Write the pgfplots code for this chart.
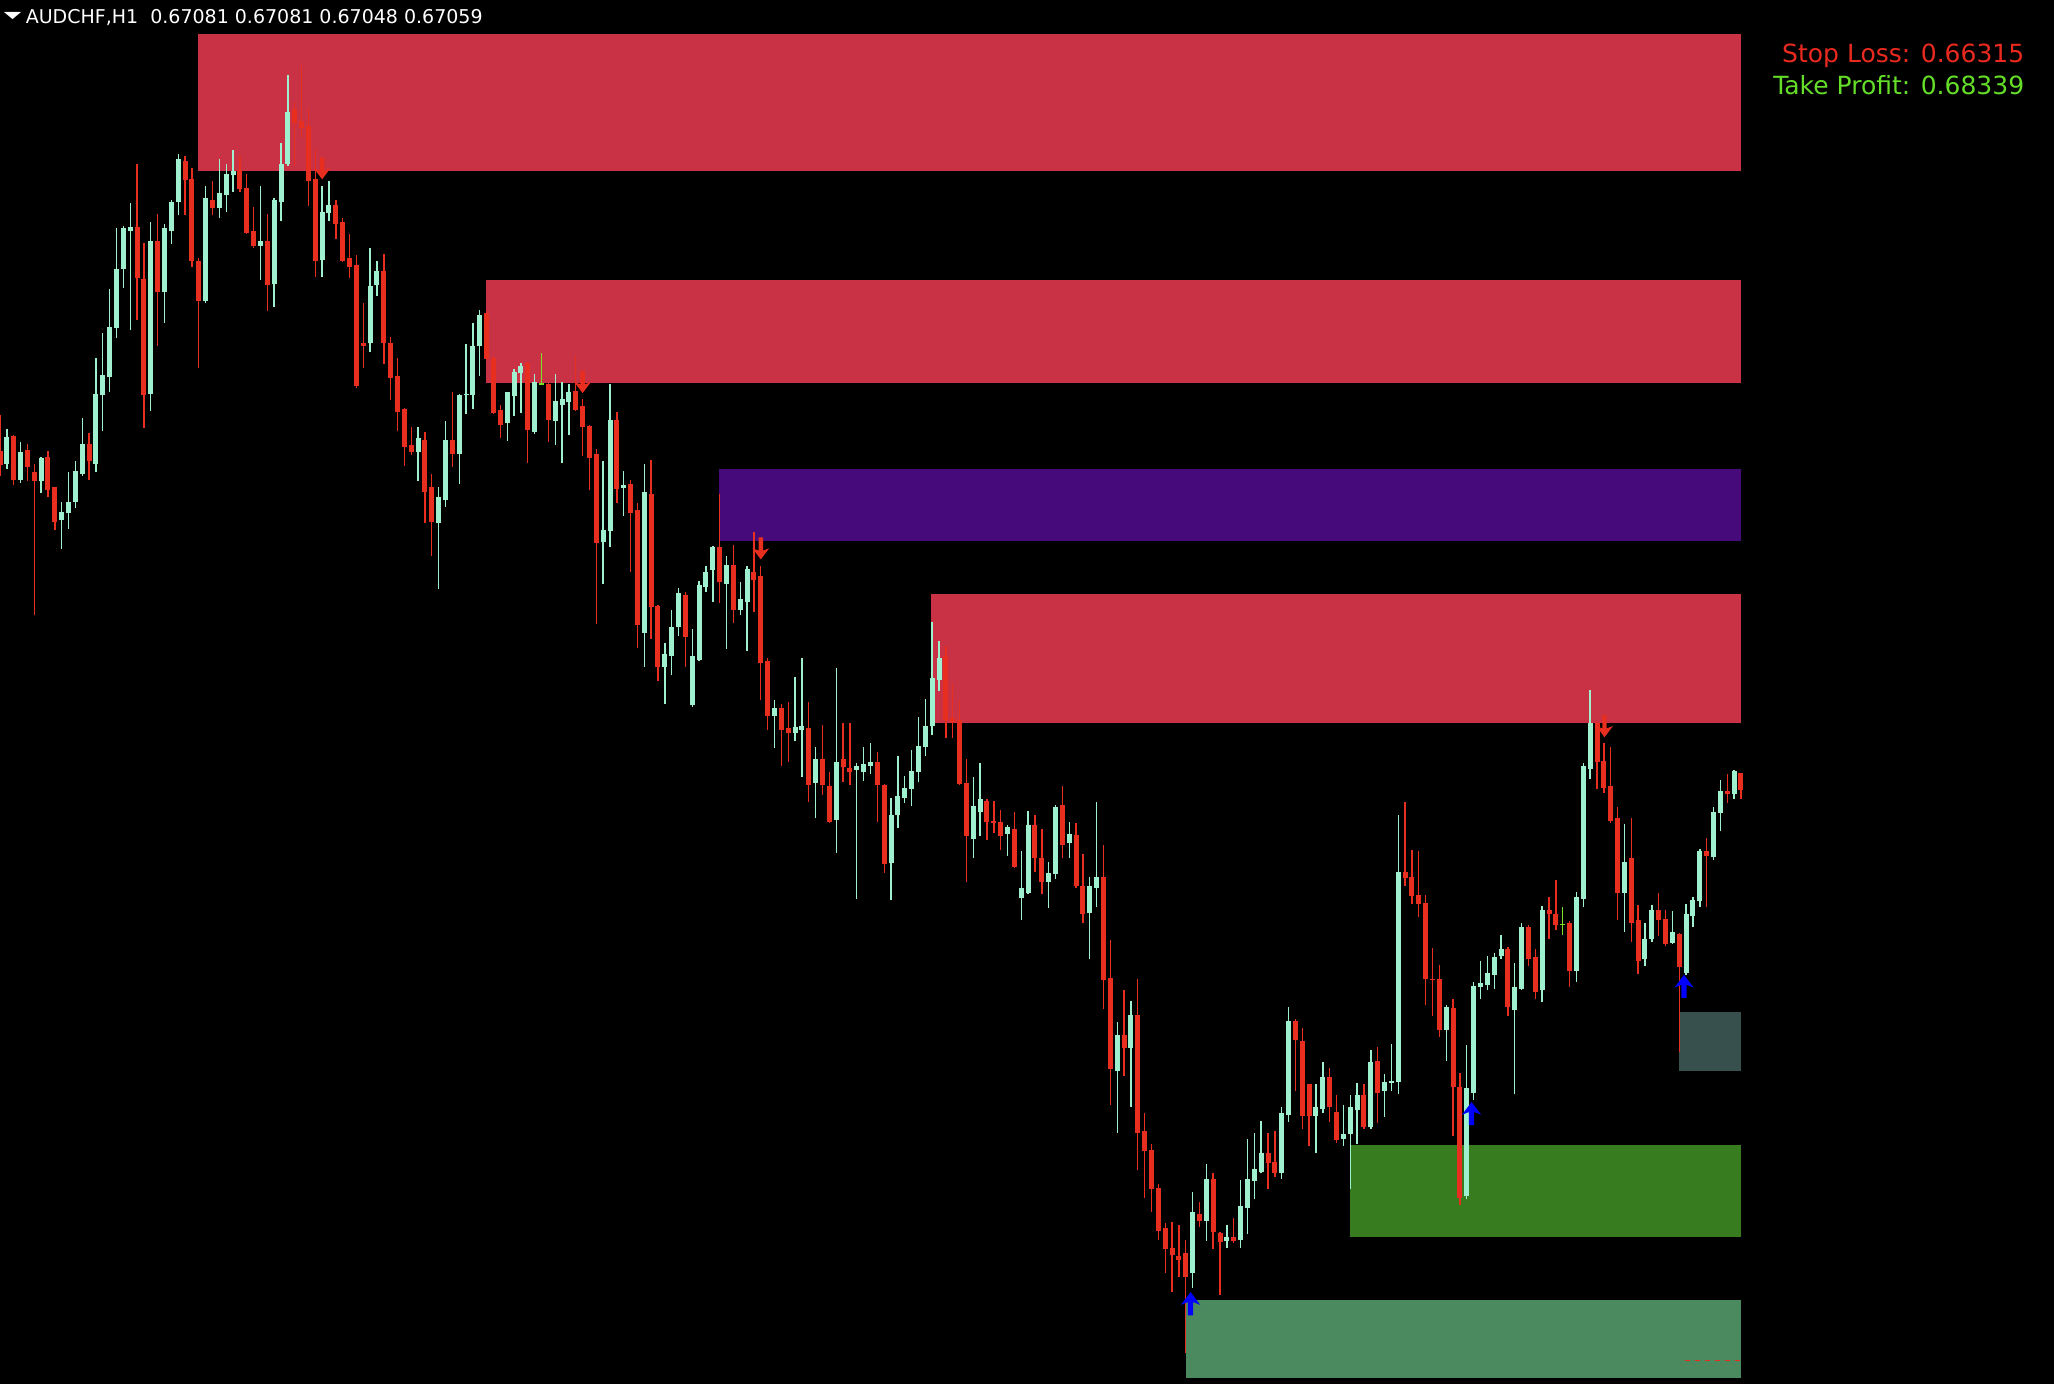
\documentclass[border=0pt]{standalone}
\usepackage{fontspec}
\setmainfont{DejaVu Sans}
\usepackage{graphicx}
\usepackage{pgfplots}
\usepackage{pgfplotstable}
\pgfplotsset{compat=1.18}

% palette
\definecolor{cup}{RGB}{158,240,206}
\definecolor{cdn}{RGB}{232,46,30}
\definecolor{cdoji}{RGB}{124,224,40}
\definecolor{zsup}{RGB}{201,50,68}
\definecolor{zmid}{RGB}{70,10,122}
\definecolor{zdem}{RGB}{56,124,32}
\definecolor{zdemb}{RGB}{74,138,94}
\definecolor{zslate}{RGB}{55,80,78}
\definecolor{sltext}{RGB}{234,42,30}
\definecolor{tptext}{RGB}{100,222,40}
\definecolor{sigblue}{RGB}{0,0,255}

% signal arrows, tip at the plotted point
\pgfdeclareplotmark{sigup}{%
  \pgfpathmoveto{\pgfqpoint{0pt}{0pt}}%
  \pgfpathlineto{\pgfqpoint{2.4pt}{-3.2pt}}%
  \pgfpathlineto{\pgfqpoint{0.65pt}{-2.5pt}}%
  \pgfpathlineto{\pgfqpoint{0.65pt}{-5.8pt}}%
  \pgfpathlineto{\pgfqpoint{-0.65pt}{-5.8pt}}%
  \pgfpathlineto{\pgfqpoint{-0.65pt}{-2.5pt}}%
  \pgfpathlineto{\pgfqpoint{-2.4pt}{-3.2pt}}%
  \pgfpathclose
  \pgfusepathqfill}
\pgfdeclareplotmark{sigdown}{%
  \pgfpathmoveto{\pgfqpoint{0pt}{0pt}}%
  \pgfpathlineto{\pgfqpoint{2.1pt}{2.8pt}}%
  \pgfpathlineto{\pgfqpoint{0.55pt}{2.2pt}}%
  \pgfpathlineto{\pgfqpoint{0.55pt}{5.5pt}}%
  \pgfpathlineto{\pgfqpoint{-0.55pt}{5.5pt}}%
  \pgfpathlineto{\pgfqpoint{-0.55pt}{2.2pt}}%
  \pgfpathlineto{\pgfqpoint{-2.1pt}{2.8pt}}%
  \pgfpathclose
  \pgfusepathqfill}

% candle pieces drawn as error bars (wick: low->high, body: open<->close)
\pgfplotsset{
  candlepart/.style n args={2}{draw=none, no markers,
    error bars/.cd, y dir=plus, y explicit, error mark=none,
    error bar style={line width=#1, draw=#2, line cap=butt}},
}

% AUDCHF H1 bars: index, open, high, low, close
\pgfplotstableread{
i O H L C
0 0.67502 0.67549 0.67469 0.67483
1 0.67485 0.67530 0.67478 0.67520
2 0.67521 0.67523 0.67457 0.67464
3 0.67464 0.67513 0.67460 0.67500
4 0.67503 0.67511 0.67462 0.67481
5 0.67474 0.67484 0.67287 0.67462
6 0.67462 0.67494 0.67447 0.67492
7 0.67494 0.67502 0.67441 0.67451
8 0.67454 0.67455 0.67398 0.67409
9 0.67411 0.67435 0.67374 0.67422
10 0.67420 0.67474 0.67400 0.67435
11 0.67435 0.67489 0.67427 0.67476
12 0.67472 0.67544 0.67469 0.67510
13 0.67511 0.67525 0.67464 0.67488
14 0.67485 0.67623 0.67474 0.67576
15 0.67574 0.67656 0.67527 0.67601
16 0.67598 0.67713 0.67579 0.67663
17 0.67662 0.67793 0.67649 0.67739
18 0.67739 0.67795 0.67714 0.67792
19 0.67789 0.67825 0.67659 0.67794
20 0.67794 0.67876 0.67673 0.67727
21 0.67726 0.67773 0.67532 0.67574
22 0.67576 0.67800 0.67554 0.67775
23 0.67775 0.67811 0.67639 0.67709
24 0.67709 0.67798 0.67669 0.67792
25 0.67789 0.67829 0.67771 0.67827
26 0.67826 0.67889 0.67809 0.67883
27 0.67880 0.67887 0.67809 0.67855
28 0.67856 0.67871 0.67742 0.67749
29 0.67750 0.67753 0.67610 0.67697
30 0.67697 0.67847 0.67695 0.67831
31 0.67829 0.67854 0.67809 0.67818
32 0.67819 0.67882 0.67805 0.67838
33 0.67836 0.67876 0.67814 0.67863
34 0.67861 0.67894 0.67839 0.67867
35 0.67868 0.67885 0.67839 0.67843
36 0.67845 0.67863 0.67784 0.67786
37 0.67788 0.67820 0.67767 0.67769
38 0.67769 0.67847 0.67724 0.67775
39 0.67775 0.67811 0.67684 0.67718
40 0.67719 0.67831 0.67689 0.67829
41 0.67826 0.67904 0.67802 0.67876
42 0.67876 0.67992 0.67874 0.67944
43 0.67948 0.67957 0.67873 0.67930
44 0.67932 0.68005 0.67910 0.67923
45 0.67925 0.67950 0.67821 0.67854
46 0.67856 0.67896 0.67729 0.67749
47 0.67751 0.67847 0.67729 0.67813
48 0.67812 0.67854 0.67802 0.67822
49 0.67822 0.67829 0.67778 0.67798
50 0.67800 0.67805 0.67748 0.67750
51 0.67753 0.67784 0.67727 0.67742
52 0.67744 0.67757 0.67584 0.67586
53 0.67643 0.67695 0.67610 0.67639
54 0.67642 0.67766 0.67631 0.67717
55 0.67718 0.67750 0.67704 0.67737
56 0.67737 0.67759 0.67615 0.67642
57 0.67643 0.67650 0.67568 0.67597
58 0.67599 0.67623 0.67527 0.67552
59 0.67556 0.67558 0.67482 0.67507
60 0.67509 0.67533 0.67496 0.67500
61 0.67500 0.67533 0.67462 0.67518
62 0.67516 0.67526 0.67407 0.67448
63 0.67454 0.67471 0.67364 0.67409
64 0.67407 0.67455 0.67322 0.67442
65 0.67438 0.67540 0.67429 0.67516
66 0.67516 0.67579 0.67481 0.67498
67 0.67498 0.67576 0.67458 0.67574
68 0.67574 0.67641 0.67550 0.67576
69 0.67574 0.67668 0.67556 0.67639
70 0.67638 0.67686 0.67599 0.67679
71 0.67682 0.67686 0.67620 0.67622
72 0.67623 0.67626 0.67550 0.67551
73 0.67555 0.67561 0.67518 0.67535
74 0.67538 0.67579 0.67515 0.67578
75 0.67573 0.67609 0.67547 0.67605
76 0.67603 0.67616 0.67551 0.67613
77 0.67616 0.67617 0.67486 0.67529
78 0.67526 0.67602 0.67524 0.67592
79 0.67589 0.67629 0.67587 0.67589
80 0.67589 0.67590 0.67513 0.67542
81 0.67540 0.67602 0.67509 0.67567
82 0.67562 0.67591 0.67486 0.67569
83 0.67565 0.67589 0.67522 0.67578
84 0.67580 0.67626 0.67554 0.67555
85 0.67560 0.67569 0.67495 0.67533
86 0.67534 0.67536 0.67450 0.67493
87 0.67497 0.67504 0.67276 0.67382
88 0.67383 0.67488 0.67328 0.67399
89 0.67397 0.67589 0.67376 0.67542
90 0.67542 0.67553 0.67433 0.67452
91 0.67453 0.67475 0.67417 0.67457
92 0.67458 0.67463 0.67343 0.67421
93 0.67425 0.67434 0.67244 0.67274
94 0.67264 0.67484 0.67220 0.67448
95 0.67446 0.67490 0.67256 0.67298
96 0.67299 0.67300 0.67202 0.67220
97 0.67220 0.67251 0.67171 0.67236
98 0.67234 0.67294 0.67209 0.67272
99 0.67272 0.67323 0.67260 0.67316
100 0.67313 0.67318 0.67220 0.67259
101 0.67170 0.67269 0.67168 0.67234
102 0.67229 0.67332 0.67227 0.67327
103 0.67324 0.67351 0.67318 0.67343
104 0.67346 0.67377 0.67304 0.67376
105 0.67376 0.67446 0.67303 0.67330
106 0.67328 0.67364 0.67243 0.67353
107 0.67353 0.67379 0.67277 0.67294
108 0.67294 0.67330 0.67288 0.67308
109 0.67305 0.67351 0.67241 0.67347
110 0.67343 0.67396 0.67292 0.67333
111 0.67339 0.67352 0.67176 0.67225
112 0.67227 0.67231 0.67138 0.67156
113 0.67156 0.67176 0.67114 0.67166
114 0.67166 0.67172 0.67091 0.67138
115 0.67140 0.67174 0.67096 0.67134
116 0.67134 0.67207 0.67123 0.67141
117 0.67138 0.67231 0.67076 0.67142
118 0.67140 0.67174 0.67044 0.67066
119 0.67068 0.67115 0.67022 0.67100
120 0.67100 0.67144 0.67053 0.67065
121 0.67065 0.67083 0.67016 0.67018
122 0.67020 0.67218 0.66977 0.67096
123 0.67100 0.67147 0.67069 0.67089
124 0.67088 0.67147 0.67065 0.67082
125 0.67085 0.67095 0.66917 0.67091
126 0.67083 0.67115 0.67071 0.67093
127 0.67091 0.67120 0.67080 0.67096
128 0.67096 0.67109 0.67017 0.67065
129 0.67065 0.67067 0.66951 0.66962
130 0.66964 0.67049 0.66915 0.67027
131 0.67027 0.67104 0.67009 0.67051
132 0.67049 0.67078 0.67042 0.67062
133 0.67060 0.67111 0.67038 0.67084
134 0.67082 0.67155 0.67069 0.67117
135 0.67115 0.67178 0.67104 0.67142
136 0.67142 0.67278 0.67131 0.67205
137 0.67203 0.67254 0.67188 0.67232
138 0.67234 0.67247 0.67127 0.67151
139 0.67153 0.67198 0.67127 0.67147
140 0.67150 0.67176 0.67065 0.67067
141 0.67068 0.67100 0.66939 0.66999
142 0.66995 0.67076 0.66970 0.67038
143 0.67030 0.67095 0.66999 0.67048
144 0.67045 0.67048 0.66994 0.67017
145 0.67019 0.67045 0.67003 0.67016
146 0.67018 0.67033 0.66981 0.66999
147 0.67002 0.67014 0.66973 0.67011
148 0.67008 0.67030 0.66957 0.66959
149 0.66918 0.66979 0.66890 0.66931
150 0.66925 0.67032 0.66923 0.67014
151 0.67013 0.67027 0.66952 0.66970
152 0.66971 0.67008 0.66923 0.66939
153 0.66939 0.66965 0.66905 0.66951
154 0.66950 0.67039 0.66943 0.67037
155 0.67039 0.67064 0.66970 0.66987
156 0.66990 0.67018 0.66970 0.67002
157 0.67000 0.67016 0.66931 0.66934
158 0.66934 0.66976 0.66885 0.66897
159 0.66899 0.66945 0.66838 0.66934
160 0.66931 0.67044 0.66907 0.66945
161 0.66945 0.66987 0.66774 0.66811
162 0.66814 0.66864 0.66648 0.66695
163 0.66692 0.66757 0.66612 0.66739
164 0.66739 0.66798 0.66686 0.66723
165 0.66723 0.66784 0.66646 0.66765
166 0.66765 0.66813 0.66563 0.66612
167 0.66614 0.66638 0.66527 0.66588
168 0.66589 0.66597 0.66508 0.66538
169 0.66540 0.66545 0.66472 0.66484
170 0.66488 0.66494 0.66429 0.66460
171 0.66461 0.66495 0.66404 0.66452
172 0.66451 0.66492 0.66423 0.66446
173 0.66455 0.66472 0.66324 0.66423
174 0.66429 0.66535 0.66409 0.66509
175 0.66506 0.66522 0.66489 0.66497
176 0.66497 0.66571 0.66471 0.66551
177 0.66551 0.66560 0.66460 0.66482
178 0.66481 0.66483 0.66400 0.66469
179 0.66470 0.66491 0.66462 0.66476
180 0.66476 0.66500 0.66468 0.66470
181 0.66472 0.66550 0.66461 0.66516
182 0.66514 0.66604 0.66480 0.66551
183 0.66549 0.66612 0.66525 0.66565
184 0.66561 0.66627 0.66559 0.66586
185 0.66586 0.66612 0.66539 0.66573
186 0.66574 0.66614 0.66554 0.66559
187 0.66559 0.66645 0.66552 0.66637
188 0.66635 0.66776 0.66626 0.66758
189 0.66758 0.66760 0.66666 0.66733
190 0.66731 0.66749 0.66617 0.66634
191 0.66675 0.66676 0.66595 0.66634
192 0.66634 0.66675 0.66586 0.66645
193 0.66643 0.66704 0.66637 0.66684
194 0.66684 0.66697 0.66626 0.66645
195 0.66639 0.66661 0.66599 0.66602
196 0.66604 0.66648 0.66595 0.66610
197 0.66610 0.66661 0.66539 0.66645
198 0.66642 0.66677 0.66597 0.66661
199 0.66661 0.66675 0.66617 0.66619
200 0.66619 0.66720 0.66617 0.66704
201 0.66706 0.66724 0.66624 0.66664
202 0.66666 0.66688 0.66633 0.66678
203 0.66677 0.66728 0.66666 0.66679
204 0.66678 0.67026 0.66663 0.66952
205 0.66952 0.67043 0.66934 0.66944
206 0.66945 0.66981 0.66910 0.66921
207 0.66922 0.66979 0.66894 0.66910
208 0.66912 0.66922 0.66778 0.66813
209 0.66813 0.66853 0.66764 0.66811
210 0.66812 0.66831 0.66737 0.66746
211 0.66746 0.66778 0.66706 0.66776
212 0.66775 0.66787 0.66608 0.66671
213 0.66672 0.66690 0.66517 0.66527
214 0.66529 0.66726 0.66525 0.66670
215 0.66664 0.66809 0.66655 0.66803
216 0.66802 0.66836 0.66787 0.66807
217 0.66805 0.66843 0.66798 0.66820
218 0.66818 0.66847 0.66800 0.66841
219 0.66843 0.66870 0.66838 0.66852
220 0.66852 0.66854 0.66764 0.66776
221 0.66772 0.66834 0.66662 0.66802
222 0.66800 0.66886 0.66798 0.66881
223 0.66881 0.66883 0.66829 0.66838
224 0.66841 0.66852 0.66787 0.66796
225 0.66798 0.66908 0.66782 0.66903
226 0.66903 0.66919 0.66865 0.66897
227 0.66897 0.66942 0.66876 0.66883
228 0.66884 0.66906 0.66870 0.66884
229 0.66886 0.66888 0.66802 0.66823
230 0.66823 0.66926 0.66809 0.66919
231 0.66917 0.67095 0.66906 0.67091
232 0.67086 0.67190 0.67073 0.67147
233 0.67147 0.67148 0.67060 0.67096
234 0.67097 0.67120 0.67055 0.67062
235 0.67064 0.67115 0.67016 0.67019
236 0.67022 0.67037 0.66890 0.66925
237 0.66925 0.67015 0.66874 0.66965
238 0.66970 0.67022 0.66861 0.66885
239 0.66889 0.66909 0.66819 0.66836
240 0.66838 0.66886 0.66829 0.66865
241 0.66865 0.66909 0.66861 0.66903
242 0.66903 0.66925 0.66868 0.66890
243 0.66891 0.66902 0.66856 0.66858
244 0.66860 0.66901 0.66858 0.66874
245 0.66871 0.66873 0.66717 0.66828
246 0.66820 0.66910 0.66818 0.66897
247 0.66895 0.66919 0.66881 0.66915
248 0.66914 0.66982 0.66906 0.66980
249 0.66979 0.66997 0.66906 0.66973
250 0.66972 0.67037 0.66968 0.67031
251 0.67029 0.67072 0.67006 0.67058
252 0.67058 0.67080 0.67042 0.67054
253 0.67054 0.67085 0.67048 0.67084
254 0.67081 0.67081 0.67048 0.67059
}\ohlc

\begin{document}
\begin{tikzpicture}
\begin{axis}[
  scale only axis, width=513.5pt, height=346pt,
  xmin=0, xmax=299.68, ymin=0.66284, ymax=0.68090,
  axis background/.style={fill=black},
  axis line style={draw=none}, ticks=none,
  clip=true, clip marker paths=true,
]
% supply and demand zones
\addplot[draw=none, fill=zsup] coordinates {(28.9,0.67867) (253.95,0.67867) (253.95,0.68046) (28.9,0.68046)};
\addplot[draw=none, fill=zsup] coordinates {(70.9,0.67590) (253.95,0.67590) (253.95,0.67724) (70.9,0.67724)};
\addplot[draw=none, fill=zmid] coordinates {(104.9,0.67384) (253.95,0.67384) (253.95,0.67478) (104.9,0.67478)};
\addplot[draw=none, fill=zsup] coordinates {(135.8,0.67147) (253.95,0.67147) (253.95,0.67315) (135.8,0.67315)};
\addplot[draw=none, fill=zslate] coordinates {(244.9,0.66693) (253.95,0.66693) (253.95,0.66770) (244.9,0.66770)};
\addplot[draw=none, fill=zdem] coordinates {(196.9,0.66476) (253.95,0.66476) (253.95,0.66596) (196.9,0.66596)};
\addplot[draw=none, fill=zdemb] coordinates {(173.0,0.66292) (253.95,0.66292) (253.95,0.66393) (173.0,0.66393)};

% bullish candles
\addplot[candlepart={0.34pt}{cup}]
  table[x=i, y expr={\thisrow{C}-\thisrow{O} > 0.000005 ? \thisrow{L} : nan},
        y error plus expr={\thisrow{H}-\thisrow{L}}] {\ohlc};
\addplot[candlepart={1.25pt}{cup}]
  table[x=i, y expr={\thisrow{C}-\thisrow{O} > 0.000005 ? \thisrow{O} : nan},
        y error plus expr={\thisrow{C}-\thisrow{O}}] {\ohlc};
% bearish candles
\addplot[candlepart={0.34pt}{cdn}]
  table[x=i, y expr={\thisrow{O}-\thisrow{C} > 0.000005 ? \thisrow{L} : nan},
        y error plus expr={\thisrow{H}-\thisrow{L}}] {\ohlc};
\addplot[candlepart={1.25pt}{cdn}]
  table[x=i, y expr={\thisrow{O}-\thisrow{C} > 0.000005 ? \thisrow{C} : nan},
        y error plus expr={\thisrow{O}-\thisrow{C}}] {\ohlc};
% doji bars: open equals close
\addplot[candlepart={0.34pt}{cdoji}]
  table[x=i, y expr={abs(\thisrow{C}-\thisrow{O}) < 0.000005 ? \thisrow{L} : nan},
        y error plus expr={\thisrow{H}-\thisrow{L}}] {\ohlc};
\addplot[only marks, mark=-, mark size=0.65pt, mark options={draw=cdoji, line width=0.34pt}]
  table[x=i, y expr={abs(\thisrow{C}-\thisrow{O}) < 0.000005 ? \thisrow{C} : nan}] {\ohlc};

% sell and buy signals
\addplot[only marks, mark=sigdown, mark options={fill=cdn, draw=none}]
  coordinates {(47,0.67856) (85,0.67577) (111,0.67360) (234.1,0.67128)};
\addplot[only marks, mark=sigup, mark options={fill=sigblue, draw=none}]
  coordinates {(173.7,0.66404) (214.7,0.66652) (245.7,0.66818)};

% stop loss level
\addplot[cdn, line width=0.35pt, dash pattern=on 1.4pt off 1.1pt]
  coordinates {(245.8,0.66315) (253.95,0.66315)};

% header and trade levels
\node[anchor=center, text=white, inner sep=0pt, font=\fontsize{4.75pt}{5.5pt}\selectfont]
  at (rel axis cs:0.00620,0.98822) {\scalebox{1.2}[0.5]{▼}};
\node[anchor=base west, text=white, inner sep=0pt, font=\fontsize{4.75pt}{5.5pt}\selectfont]
  at (rel axis cs:0.01217,0.98317) {AUDCHF,H1\ \ 0.67081 0.67081 0.67048 0.67059};
\node[anchor=base east, text=sltext, inner sep=0pt, font=\fontsize{6.25pt}{7pt}\selectfont]
  at (rel axis cs:0.98588,0.95470) {Stop Loss: 0.66315};
\node[anchor=base east, text=tptext, inner sep=0pt, font=\fontsize{6.25pt}{7pt}\selectfont]
  at (rel axis cs:0.98588,0.93136) {Take Profit: 0.68339};
\end{axis}
\end{tikzpicture}
\end{document}
